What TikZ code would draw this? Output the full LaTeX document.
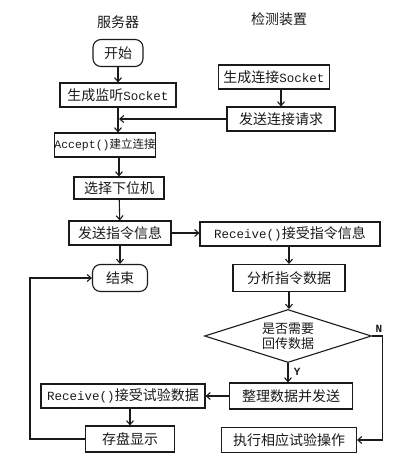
\documentclass[tikz,border=0pt]{standalone}
\usepackage{fontspec}
\setmainfont{Noto Sans CJK SC}
\setmonofont{Liberation Mono}
\usepackage{tikz}
\usetikzlibrary{positioning,arrows.meta,calc,shapes.geometric}
\definecolor{fcink}{HTML}{1A1A1A}
\tikzset{
  box/.style    ={draw=fcink, line width=1.1pt, minimum height=24pt, inner sep=1pt,
                  font=\fontsize{14}{16}\selectfont, text=fcink},
  term/.style   ={box, rounded corners=8pt, minimum height=27pt},
  decide/.style ={diamond, draw=fcink, line width=1.1pt, aspect=3.15, inner sep=0pt,
                  minimum width=167pt, minimum height=53pt, align=center,
                  font=\fontsize{13}{15}\selectfont, text=fcink},
  lane/.style   ={font=\fontsize{14}{16}\selectfont, text=fcink},
  tag/.style    ={font=\ttfamily\bfseries\fontsize{11}{12}\selectfont, text=fcink},
  flow/.style   ={-{Straight Barb[length=4pt,width=7pt]}, line width=1.1pt, draw=fcink},
}
\newcommand{\api}[1]{{\ttfamily\fontsize{12.5}{14}\selectfont #1}}

\begin{document}
\begin{tikzpicture}[x=1pt,y=-1pt]
  \useasboundingbox (0,0) rectangle (401,461);
  % lanes
  \node[lane] (srv) at (118,22) {服务器};
  \node[lane] (dev) at (279,19) {检测装置};
  % server side
  \node[term, minimum width=50pt]  (start)    at (118,53)  {开始};
  \node[box,  minimum width=116pt] (listen)   at (118,95)  {生成监听\api{Socket}};
  \node[box,  minimum width=100pt, inner sep=0pt, font=\fontsize{11.5}{13}\selectfont]
                                   (accept)   at (105,145) {{\ttfamily Accept()}建立连接};
  \node[box,  minimum width=90pt, minimum height=22pt] (select) at (119,188) {选择下位机};
  \node[box,  minimum width=102pt] (sendcmd)  at (120,233) {发送指令信息};
  \node[term, minimum width=55pt]  (endn)     at (120,278) {结束};
  \node[box,  minimum width=164pt] (recvdata) at (123,396) {\api{Receive()}接受试验数据};
  \node[box,  minimum width=89pt, minimum height=26pt] (store) at (130,439) {存盘显示};
  % device side
  \node[box,  minimum width=111pt] (mksock)   at (274,77)  {生成连接\api{Socket}};
  \node[box,  minimum width=108pt] (conreq)   at (281,119) {发送连接请求};
  \node[box,  minimum width=180pt] (recvcmd)  at (290,234) {\api{Receive()}接受指令信息};
  \node[box,  minimum width=112pt, minimum height=27pt] (parse) at (289,278) {分析指令数据};
  \node[decide]                    (ask)      at (288,336) {是否需要\\回传数据};
  \node[box,  minimum width=123pt, minimum height=26pt] (pack) at (291,396) {整理数据并发送};
  \node[box,  minimum width=135pt, minimum height=25pt] (exec) at (289,440) {执行相应试验操作};

  % server flow
  \draw[flow] (start) -- (listen);
  \draw[flow] (listen.south) -- (listen.south |- accept.north);
  \draw[flow] (select.north |- accept.south) -- (select.north);
  \draw[flow] (select) -- (sendcmd);
  \draw[flow] (sendcmd.south) -- (sendcmd.south |- endn.north);
  \draw[flow] (store.north |- recvdata.south) -- (store.north);
  \draw[flow] (store.west) -- ++(-55,0) |- (endn.west);
  % device flow
  \draw[flow] (conreq.north |- mksock.south) -- (conreq.north);
  \draw[flow] (conreq.west) -- ($(listen.south |- conreq.west)+(1,0)$);
  \draw[flow] (sendcmd.east) -- (sendcmd.east -| recvcmd.west);
  \draw[flow] (parse.north |- recvcmd.south) -- (parse.north);
  \draw[flow] (parse.south) -- (parse.south |- ask.north);
  \draw[flow] (ask.south) -- node[tag, right=2pt, pos=0.45] (yes) {Y} (ask.south |- pack.north);
  \draw[flow] (ask.east) -- ++(10,0) |- (exec.east);
  \node[tag, above right=0pt and 0pt of ask.east] (no) {N};
  \draw[flow] (pack.west) -- (pack.west -| recvdata.east);
\end{tikzpicture}
\end{document}
